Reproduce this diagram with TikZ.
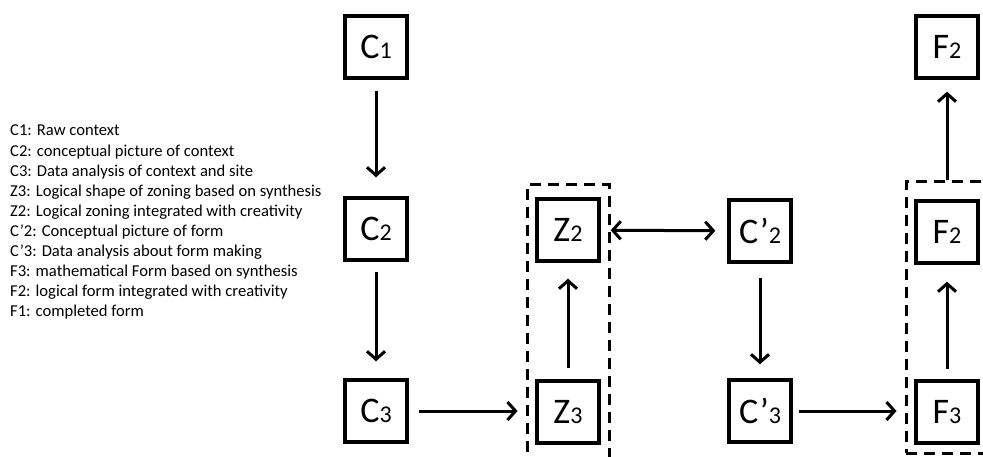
\documentclass[tikz,border=0pt]{standalone}
\usepackage{fontspec}
\setmainfont{Carlito}
\usetikzlibrary{arrows.meta}

\newcommand{\stagelabel}[2]{{\fontsize{36}{40}\selectfont #1}{\fontsize{24}{28}\selectfont #2}}

\begin{document}
\begin{tikzpicture}[x=1pt,y=-1pt,
  stagebox/.style={draw, line width=3.4pt, minimum width=62pt, minimum height=62pt, inner sep=0pt},
  groupbox/.style={draw, line width=3pt, dash pattern=on 11pt off 7pt, inner sep=0pt},
  tip/.style={},
  arr/.style={line width=3pt, -{Straight Barb[length=8pt,width=18pt,line width=3pt]}},
  biarr/.style={line width=3pt, {Straight Barb[length=8pt,width=18pt,line width=3pt]}-{Straight Barb[length=8pt,width=18pt,line width=3pt]}},
  legend/.style={anchor=base west, inner sep=0pt, font=\fontsize{16.6}{19}\selectfont}]
\clip (0,0) rectangle (983,457);
\fill[white] (0,0) rectangle (983,457);

% legend
\foreach \txt [count=\i from 0] in {
  {C1: Raw context},
  {C2: conceptual picture of context},
  {C3: Data analysis of context and site},
  {Z3: Logical shape of zoning based on synthesis},
  {Z2: Logical zoning integrated with creativity},
  {C’2: Conceptual picture of form},
  {C’3: Data analysis about form making},
  {F3: mathematical Form based on synthesis},
  {F2: logical form integrated with creativity},
  {F1: completed form}}
  \node[legend] (leg\i) at (10,{136+20.1*\i}) {\txt};

% dashed groups
\node[groupbox, minimum width=82pt, minimum height=300pt] (zgroup) at (568,335) {};
\node[groupbox, minimum width=82pt, minimum height=271pt] (fgroup) at (947,317.5) {};

% stages
\node[stagebox] (c1) at (376,47) {\stagelabel{C}{1}};
\node[stagebox] (c2) at (376,229) {\stagelabel{C}{2}};
\node[stagebox] (c3) at (376,411) {\stagelabel{C}{3}};
\node[stagebox] (z2) at (568,230) {\stagelabel{Z}{2}};
\node[stagebox] (z3) at (568,412) {\stagelabel{Z}{3}};
\node[stagebox] (cp2) at (760,231) {\stagelabel{C’}{2}};
\node[stagebox] (cp3) at (760,411) {\stagelabel{C’}{3}};
\node[stagebox] (f2top) at (947,47) {\stagelabel{F}{2}};
\node[stagebox] (f2) at (947,232) {\stagelabel{F}{2}};
\node[stagebox] (f3) at (947,412) {\stagelabel{F}{3}};

% connectors
\draw[arr, shorten <=11pt, shorten >=19pt] (c1) -- (c2);
\draw[arr, shorten <=10pt, shorten >=17pt] (c2) -- (c3);
\draw[arr, shorten <=10pt, shorten >=8pt] (c3) -- (c3 -| zgroup.west);
\draw[arr, shorten <=11pt, shorten >=16pt] (z3) -- (z2);
\draw[biarr, shorten <=10pt, shorten >=12pt] (z2) -- (cp2);
\draw[arr, shorten <=14pt, shorten >=14pt] (cp2) -- (cp3);
\draw[arr, shorten <=6pt, shorten >=8pt] (cp3) -- (cp3 -| fgroup.west);
\draw[arr, shorten <=10pt, shorten >=17pt] (f3) -- (f2);
\draw[arr, shorten >=12pt] (fgroup.north) -- (f2top);
\end{tikzpicture}
\end{document}
